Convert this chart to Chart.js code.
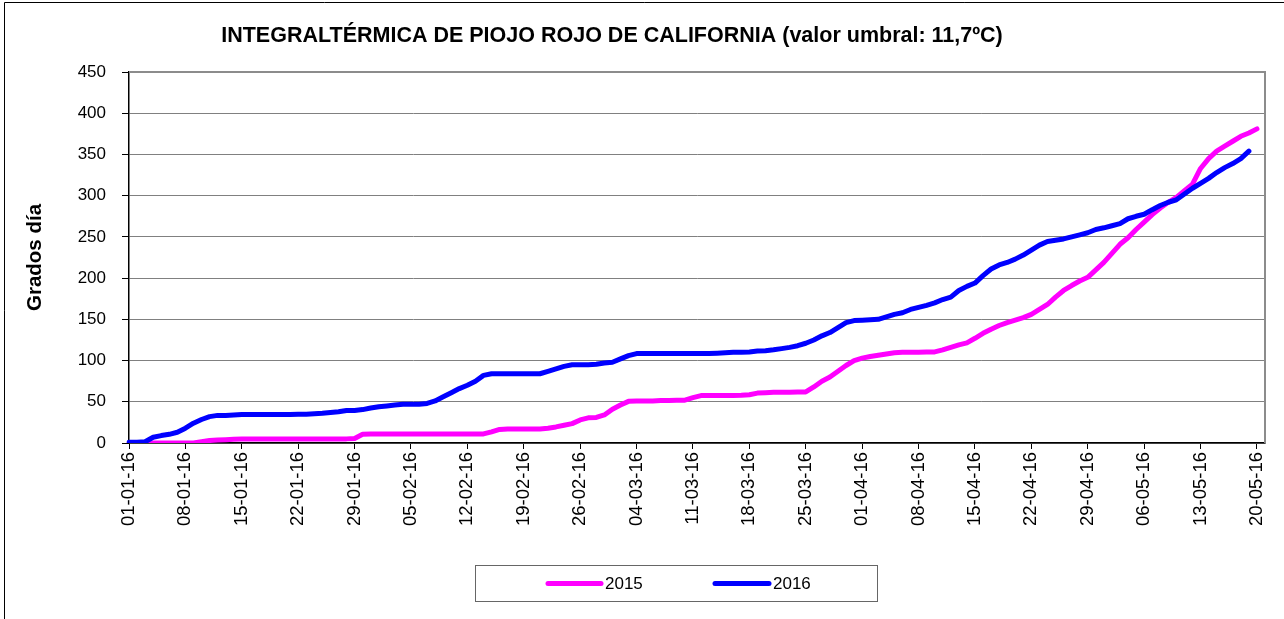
<!DOCTYPE html>
<html>
<head>
<meta charset="utf-8">
<script src="https://cdn.jsdelivr.net/npm/chart.js@4.4.1/dist/chart.umd.min.js"></script>
<style>
  html, body { margin: 0; padding: 0; background: #fff; }
  #wrap { position: relative; width: 1284px; height: 619px; }
  canvas { display: block; }
</style>
</head>
<body>
<div id="wrap"><canvas id="c" width="1284" height="619"></canvas></div>
<script>
// ---- DATA ----
const titleText = 'INTEGRALTÉRMICA DE PIOJO ROJO DE CALIFORNIA (valor umbral: 11,7ºC)';
const yTitle = 'Grados día';
const seriesNames = ['2015', '2016'];
const tickLabels = ['01-01-16','08-01-16','15-01-16','22-01-16','29-01-16','05-02-16','12-02-16',
  '19-02-16','26-02-16','04-03-16','11-03-16','18-03-16','25-03-16','01-04-16','08-04-16',
  '15-04-16','22-04-16','29-04-16','06-05-16','13-05-16','20-05-16'];
const yTicks = [0, 50, 100, 150, 200, 250, 300, 350, 400, 450];
const dayCount = 142; // 01-01-16 .. 21-05-16

const values2015 = [
  0,0,0,0,0,0,0,0,0,1.5,
  3,3.5,4,4.5,4.8,5,5,5,5,5,
  5,5,5,5,5,5,5,5,5.5,10.5,
  11,11,11,11,11,11,11,11,11,11,
  11,11,11,11,11,13.5,16.5,17,17,17,
  17,17,18,19.5,21.5,23.5,28,30.5,31,34,
  41,46,50.5,51,51,51,51.5,51.5,52,52,
  55,57.5,57.5,57.5,57.5,57.5,57.8,58.5,60.5,61,
  61.5,61.5,61.5,62,62,68,75,80,87,94,
  100,103,105,106.5,108,109.5,110,110,110,110.5,
  110.5,113,116,119,121.5,127,133,138,142.5,146,
  149,152,156,162,168,177,185,191,196.5,201,
  210,219,230,241,249,259,268,277,285,292,
  298,306,314,333,345,354,360,366,372,376,
  381
];
const values2016 = [
  1,1,1.5,7,9,10.5,13,18,24,28.5,
  32,33.5,33.5,34,34.5,34.5,34.5,34.5,34.5,34.5,
  34.5,35,35,35.5,36,37,38,39.5,39.5,40.5,
  42.5,44,45,46,47,47,47,48,51,56,
  61,66,70,75,82,84,84,84,84,84,
  84,84,87,90,93,95,95,95,95.5,97,
  98,102,106,108.5,108.5,108.5,108.5,108.5,108.5,108.5,
  108.5,108.5,108.5,109,109.5,110,110,110.5,111.5,112,
  113,114.5,116,118,121,125,130,134,140,146,
  148.5,149,149.5,150,153,156,158,162,164.5,167,
  170,174,177,185,190,194,203,211,216,219,
  223,228,234,240,244.5,246,247.5,250,252.5,255,
  259,261,263.5,266,272,275,277.5,283,288,292,
  295,302,309,315,321,328,334,339,345,354
];
const colors = ['#FF00FF', '#0000FF'];

// categories: one per day
const categories = [];
for (let i = 0; i < dayCount; i++) {
  const d = new Date(Date.UTC(2016, 0, 1 + i));
  const dd = String(d.getUTCDate()).padStart(2, '0');
  const mm = String(d.getUTCMonth() + 1).padStart(2, '0');
  categories.push(dd + '-' + mm + '-16');
}

const FONT = '"Liberation Sans", Arial, sans-serif';

const deco = {
  id: 'deco',
  beforeDraw(chart) {
    const ctx = chart.ctx;
    ctx.save();
    ctx.fillStyle = '#fff';
    ctx.fillRect(0, 0, chart.width, chart.height);
    ctx.restore();
  },
  afterDraw(chart) {
    const ctx = chart.ctx;
    const a = chart.chartArea;
    ctx.save();
    // plot area top/right border
    ctx.strokeStyle = '#8c8c8c';
    ctx.lineWidth = 2;
    ctx.beginPath();
    ctx.moveTo(a.left, a.top);
    ctx.lineTo(a.right, a.top);
    ctx.lineTo(a.right, a.bottom);
    ctx.stroke();
    // outer border
    ctx.strokeStyle = '#000';
    ctx.lineWidth = 1;
    ctx.beginPath();
    ctx.moveTo(4.5, chart.height);
    ctx.lineTo(4.5, 2.5);
    ctx.lineTo(chart.width, 2.5);
    ctx.stroke();
    // title
    ctx.fillStyle = '#000';
    ctx.font = 'bold 21.5px ' + FONT;
    ctx.textAlign = 'center';
    ctx.textBaseline = 'middle';
    ctx.fillText(titleText, 612, 36);
    // legend
    ctx.strokeStyle = '#666';
    ctx.lineWidth = 1;
    ctx.strokeRect(475.5, 565.5, 402, 36);
    const items = [{x1: 548, x2: 601, tx: 605}, {x1: 715, x2: 769, tx: 773}];
    chart.data.datasets.forEach((ds, k) => {
      const it = items[k];
      ctx.strokeStyle = ds.borderColor;
      ctx.lineWidth = 5;
      ctx.lineCap = 'round';
      ctx.beginPath();
      ctx.moveTo(it.x1, 583.5);
      ctx.lineTo(it.x2, 583.5);
      ctx.stroke();
      ctx.fillStyle = '#000';
      ctx.font = '17px ' + FONT;
      ctx.textAlign = 'left';
      ctx.textBaseline = 'middle';
      ctx.fillText(ds.label, it.tx, 584);
    });
    ctx.restore();
  }
};

new Chart(document.getElementById('c'), {
  type: 'line',
  data: {
    labels: categories,
    datasets: [
      { label: seriesNames[0], data: values2015, borderColor: colors[0], backgroundColor: colors[0],
        borderWidth: 5, pointRadius: 0, tension: 0, fill: false, order: 2,
        borderJoinStyle: 'round', borderCapStyle: 'round' },
      { label: seriesNames[1], data: values2016, borderColor: colors[1], backgroundColor: colors[1],
        borderWidth: 5, pointRadius: 0, tension: 0, fill: false, order: 1,
        borderJoinStyle: 'round', borderCapStyle: 'round' }
    ]
  },
  options: {
    responsive: false,
    animation: false,
    devicePixelRatio: 1,
    layout: { padding: { top: 72, right: 19, left: 0, bottom: 0 } },
    plugins: { legend: { display: false }, title: { display: false }, tooltip: { enabled: false } },
    scales: {
      x: {
        type: 'category',
        offset: false,
        afterFit(s) { s.height = 176; s.paddingLeft = 0; s.paddingRight = 0; },
        border: { display: true, color: '#000', width: 1.5 },
        grid: {
          drawOnChartArea: false, drawTicks: true, tickLength: 6,
          color: 'rgba(0,0,0,0)',
          tickColor: (c) => (c.index % 7 === 0 ? '#000' : 'rgba(0,0,0,0)'),
          tickWidth: 1
        },
        ticks: {
          autoSkip: false, minRotation: 90, maxRotation: 90, padding: 3,
          color: '#000', font: { family: FONT, size: 18.5 },
          callback: (v, i) => (i % 7 === 0 ? tickLabels[i / 7] : '')
        }
      },
      y: {
        min: yTicks[0], max: yTicks[yTicks.length - 1],
        afterFit(s) { s.width = 129; },
        border: { display: true, color: '#000', width: 1.5 },
        grid: { color: '#808080', lineWidth: 1, tickLength: 7, tickColor: '#000' },
        ticks: { stepSize: 50, padding: 16, color: '#000', font: { family: FONT, size: 17 } },
        title: {
          display: true, text: yTitle, color: '#000',
          font: { family: FONT, size: 20.5, weight: 'bold' },
          padding: { top: 23, bottom: 0 }
        }
      }
    }
  },
  plugins: [deco]
});
</script>
</body>
</html>
